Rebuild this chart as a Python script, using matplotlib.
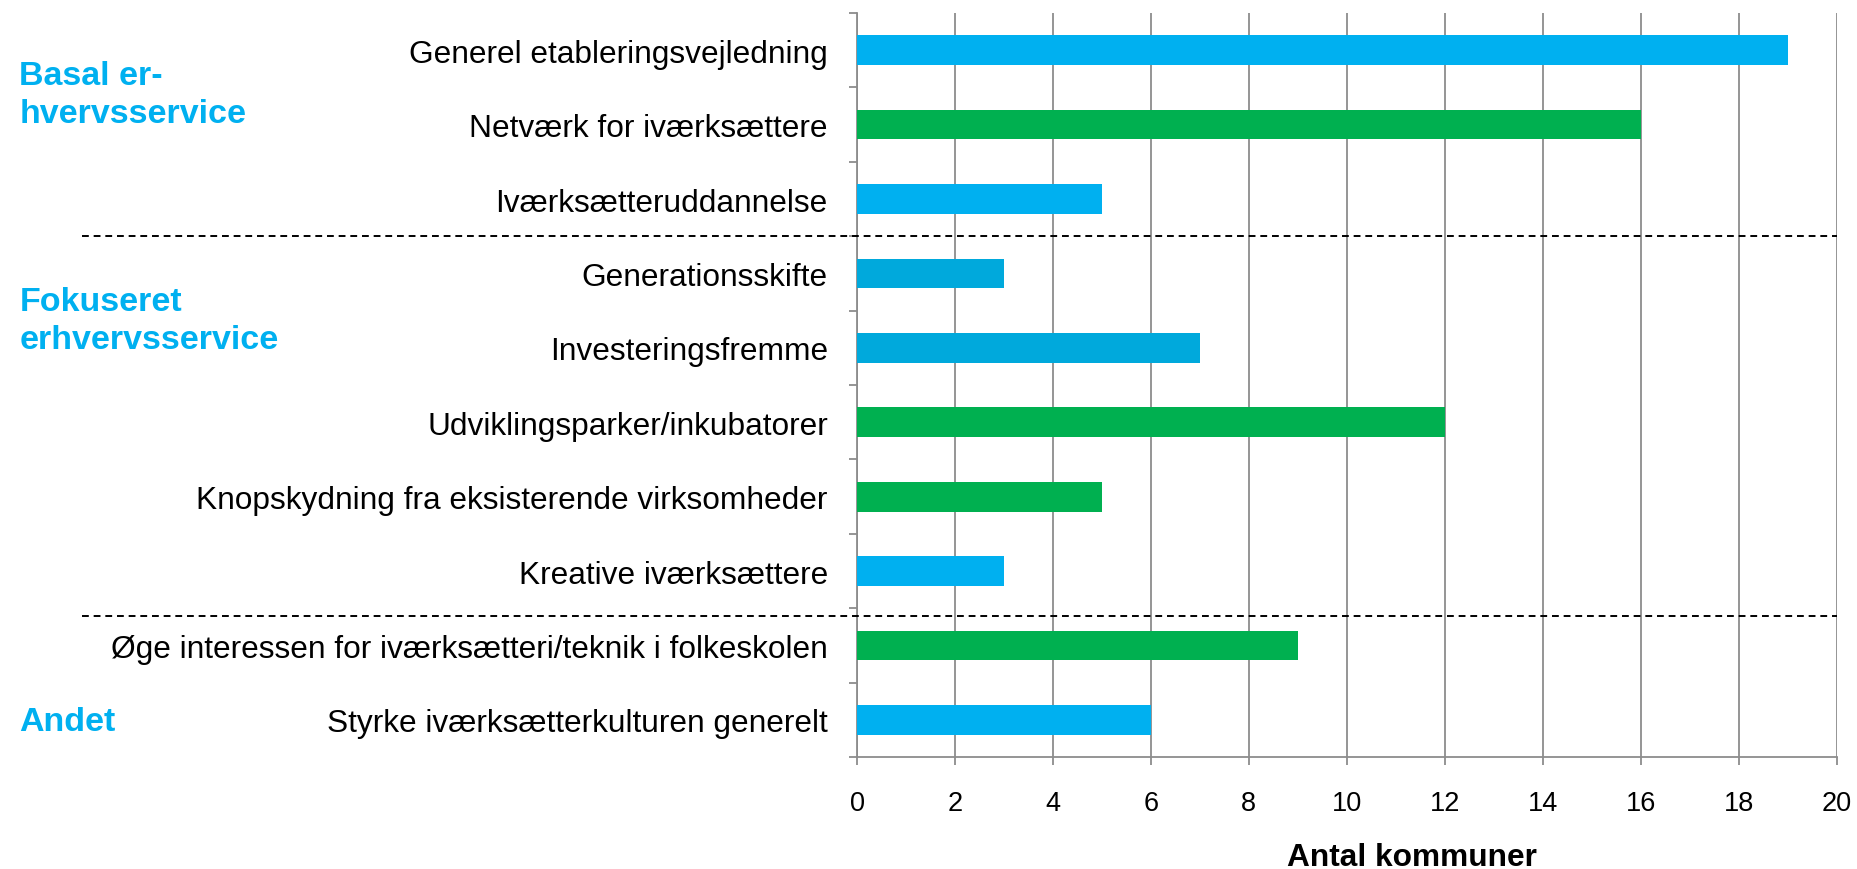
import numpy as np
import matplotlib.pyplot as plt
from matplotlib.ticker import MultipleLocator
import matplotlib.transforms as mtransforms

plt.rcParams['font.family'] = ['Liberation Sans', 'DejaVu Sans']

#%% Data
categories = ["Generel etableringsvejledning",
              "Netværk for iværksættere",
              "Iværksætteruddannelse",
              "Generationsskifte",
              "Investeringsfremme",
              "Udviklingsparker/inkubatorer",
              "Knopskydning fra eksisterende virksomheder",
              "Kreative iværksættere",
              "Øge interessen for iværksætteri/teknik i folkeskolen",
              "Styrke iværksætterkulturen generelt"]
values = [19, 16, 5, 3, 7, 12, 5, 3, 9, 6]
bar_colors = ["#00B0F0", "#00B050", "#00B0F0", "#00A9DC", "#00A9DC",
              "#00B050", "#00B050", "#00B0F0", "#00B050", "#00B0F0"]

groups = ["Basal er-\nhvervsservice", "Fokuseret\nerhvervsservice", "Andet"]
group_y = [0.6, 3.63, 9.02]       # label centre, in category units
group_breaks = [2.5, 7.6]         # dashed separators

#%% Plot
fig = plt.figure(figsize=(18.57, 8.70), dpi=100)
ax = fig.add_axes([0.4615, 0.1287, 0.5275, 0.8552])

y = np.arange(len(categories))
ax.barh(y, values, height=0.4, color=bar_colors, zorder=3)

ax.set_xlim(0, 20)
ax.set_ylim(len(categories) - 0.5, -0.5)
ax.xaxis.set_major_locator(MultipleLocator(2))
ax.grid(axis='x', color='#8C8C8C', linewidth=1.3, zorder=0)

ax.set_yticks(y)
ax.set_yticklabels(categories, fontsize=22.8)
ax.set_yticks(np.arange(len(categories) + 1) - 0.5, minor=True)
ax.tick_params(axis='y', which='major', length=0, pad=21)
ax.tick_params(axis='y', which='minor', length=6, color='#8C8C8C', width=1.3)
ax.tick_params(axis='x', labelsize=19.5, length=6, color='#8C8C8C', width=1.3, pad=18)

for side in ['top', 'right']:
    ax.spines[side].set_visible(False)
for side in ['left', 'bottom']:
    ax.spines[side].set_color('#8C8C8C')
    ax.spines[side].set_linewidth(1.3)

# axis title sits near the bottom edge, a bit right of the axes centre
fig.text(1412 / 1857, 1 - 858 / 870, "Antal kommuner", fontsize=22.8,
         fontweight='bold', ha='center', va='center')

# dashed group separators, running out into the label area
trans = mtransforms.blended_transform_factory(fig.transFigure, ax.transData)
for yb in group_breaks:
    ax.plot([0.044, 0.989], [yb, yb], transform=trans, color='black',
            linestyle=(0, (3.5, 2.5)), linewidth=1.4, clip_on=False, zorder=4)

for g, gy in zip(groups, group_y):
    ax.text(0.0105, gy, g, transform=trans, color='#00B0F0', fontsize=24.5,
            fontweight='bold', ha='left', va='center', linespacing=1.3)

fig.savefig("out.png", dpi=100)
